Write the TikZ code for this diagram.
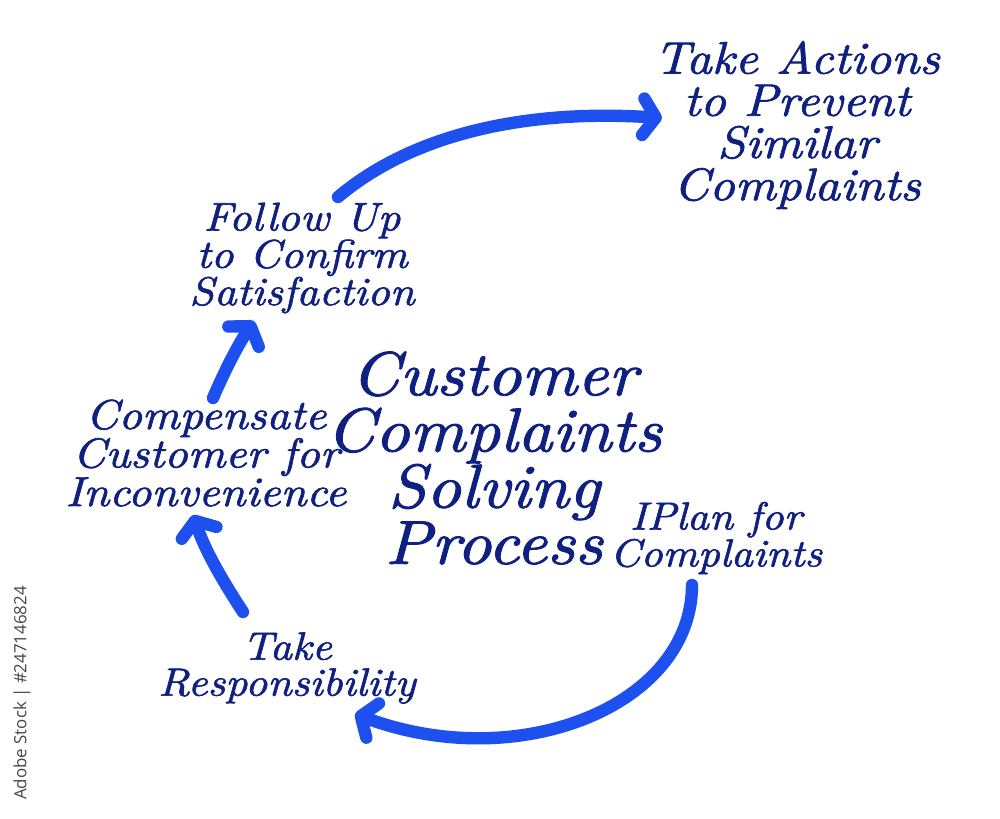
\documentclass[tikz,border=0pt]{standalone}
\usepackage{fontspec}
\newfontfamily\wmfont{Open Sans}
\newfontfamily\hand{lmroman10-italic.otf}[FakeStretch=1.10,FakeBold=1.5]
\usetikzlibrary{arrows.meta}
\definecolor{navy}{RGB}{16,32,128}
\definecolor{arrowblue}{RGB}{30,80,240}
\definecolor{wmgray}{RGB}{70,70,70}
\newcommand{\handfont}[2]{\hand\fontsize{#1}{#2}\selectfont}
\begin{document}
\begin{tikzpicture}[x=0.025cm,y=-0.025cm,
  lbl/.style={text=navy,align=center,inner sep=0pt},
  arr/.style={draw=arrowblue,line width=8.8pt,line cap=round,
    -{Straight Barb[round,length=9pt,width=26pt]}}]
\useasboundingbox[fill=white] (0,0) rectangle (1000,818);
% nodes
\node[lbl,font=\handfont{44}{40}] (title) at (494,458) {Customer\\Complaints\\Solving\\Process};
\node[lbl,font=\handfont{32.4}{30}] (prevent) at (797,125) {Take Actions\\to Prevent\\Similar\\Complaints};
\node[lbl,font=\handfont{28.5}{26.5}] (follow) at (302,258) {Follow Up\\to Confirm\\Satisfaction};
\node[lbl,font=\handfont{29.7}{27.4}] (comp) at (206,453) {Compensate\\Customer for\\Inconvenience};
\node[lbl,font=\handfont{27.8}{25}] (plan) at (716,538) {IPlan for\\Complaints};
\node[lbl,font=\handfont{28}{25.6}] (resp) at (287,668) {Take\\Responsibility};
\node[text=wmgray,font=\wmfont\fontsize{12}{12}\selectfont,rotate=90,inner sep=0pt] (wm) at (22,693) {Adobe Stock | \#247146824};
% connector end points
\coordinate (a1s) at (338,197);
\coordinate (a1e) at (662,118);
\coordinate (a2s) at (692,585);
\coordinate (a2e) at (355,714);
\coordinate (a3s) at (243,612);
\coordinate (a3e) at (193,515);
\coordinate (a4s) at (213,398);
\coordinate (a4e) at (254,321);
% connectors
\draw[arr] (a1s) .. controls (420,128) and (540,110) .. (a1e);
\draw[arr] (a2s) .. controls (692,705) and (520,775) .. (a2e);
\draw[arr] (a3s) .. controls (222,580) and (205,550) .. (a3e);
\draw[arr] (a4s) .. controls (225,370) and (238,345) .. (a4e);
\end{tikzpicture}
\end{document}
